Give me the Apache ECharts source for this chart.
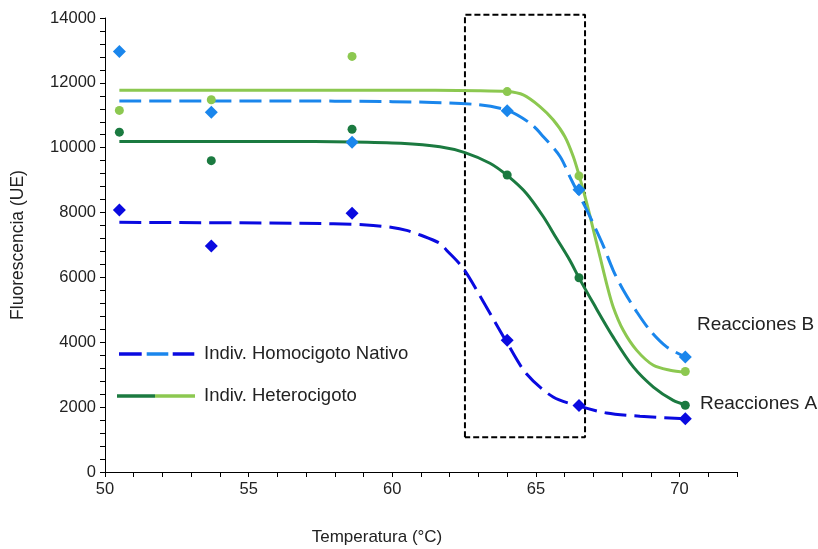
<!DOCTYPE html>
<html><head><meta charset="utf-8">
<script src="https://cdn.jsdelivr.net/npm/echarts@6/dist/echarts.min.js"></script>
<style>html,body{margin:0;padding:0;background:#fff}#c{width:818px;height:549px}</style>
</head><body><div id="c"></div>
<script>
// Measured temperatures (°C)
const temps = [50.5, 53.7, 58.6, 64.0, 66.5, 70.2];
// Measured fluorescence (UE)
const homB = [12970, 11090, 10170, 11140, 8700, 3550];   // Homocigoto nativo, Reacciones B
const hetB = [11150, 11480, 12815, 11730, 9130, 3100];   // Heterocigoto, Reacciones B
const hetA = [10480, 9600, 10570, 9160, 5990, 2060];     // Heterocigoto, Reacciones A
const homA = [8080, 6970, 7980, 4060, 2050, 1640];       // Homocigoto nativo, Reacciones A

// Fitted curves: [temp, fluorescence]
const curveHetB = [[50.5,11770],[56,11770],[60,11770],[63,11760],[64.0,11730],[64.56,11630],[65.14,11270],[65.6,10860],[66.01,10340],[66.3,9730],[66.51,9130],[66.77,8290],[67.06,7250],[67.23,6640],[67.46,5810],[67.69,5090],[68.04,4370],[68.51,3750],[69.09,3290],[69.67,3140],[70.2,3080]];
const curveHomB = [[50.5,11440],[56,11440],[60,11420],[62.82,11340],[64.01,11150],[64.79,10760],[65.26,10340],[65.84,9730],[66.18,9110],[66.41,8700],[66.77,8080],[67.31,7050],[67.69,6220],[68.04,5610],[68.51,4940],[68.97,4370],[69.55,3860],[70.2,3550]];
const curveHetA = [[50.5,10190],[56,10190],[58.6,10180],[60.3,10140],[61.66,10030],[62.53,9850],[63.4,9520],[64.02,9130],[64.67,8590],[65.26,7870],[65.72,7200],[66.18,6530],[66.51,5970],[67.0,5200],[67.69,4160],[68.39,3240],[69.09,2620],[69.78,2210],[70.2,2080]];
const curveHomA = [[50.5,7700],[56.8,7670],[59.1,7620],[60.0,7540],[60.5,7450],[61.0,7300],[61.66,7050],[61.89,6840],[62.47,6280],[63.17,5250],[63.98,4010],[64.67,3030],[65.6,2310],[66.51,2030],[67.46,1820],[68.62,1720],[70.2,1640]];

// Dashed region box corners [temp, fluorescence]
const boxRegion = [[62.53,1070],[62.53,14100],[66.71,14100],[66.71,1070],[62.53,1070]];

// Axis labels
const xLabelStep = 5;
const yLabelStep = 2000;

const C = { darkBlue:'#0a0ae0', lightBlue:'#1a86ec', darkGreen:'#1b7a40', lightGreen:'#8cc850' };
const FONT = "'Liberation Sans', Arial, sans-serif";
const pairs = ys => temps.map((t,i)=>[t, ys[i]]);

const chart = echarts.init(document.getElementById('c'), null, {renderer:'canvas'});
const dash = [22, 8];
function curve(name, data, color, dashed){
  return {name, type:'line', data, smooth:0.3, symbol:'none', z:2,
    lineStyle:{color, width:3, type: dashed ? dash : 'solid'}};
}
function pts(name, data, color, symbol, size){
  return {name, type:'scatter', data, symbol, symbolSize:size, z:3,
    itemStyle:{color, opacity:1}};
}
chart.setOption({
  animation:false,
  backgroundColor:'#fff',
  grid:{left:105, right:81, top:18, bottom:77, containLabel:false},
  xAxis:{type:'value', min:50, max:72, interval:1,
    axisLine:{lineStyle:{color:'#000', width:1}},
    axisTick:{length:5, lineStyle:{color:'#000'}},
    splitLine:{show:false},
    axisLabel:{formatter:v => (v % xLabelStep === 0 ? String(v) : ''), color:'#222', fontSize:16.5, fontFamily:FONT, margin:9}
  },
  yAxis:{type:'value', min:0, max:14000, interval:400,
    axisLine:{show:true, lineStyle:{color:'#000', width:1}},
    axisTick:{show:true, length:5, lineStyle:{color:'#000'}},
    splitLine:{show:false},
    axisLabel:{formatter:v => (v % yLabelStep === 0 ? String(v) : ''), color:'#222', fontSize:16.5, fontFamily:FONT, margin:9},
    name:'Fluorescencia (UE)', nameLocation:'middle', nameGap:78, nameRotate:90,
    nameTextStyle:{color:'#222', fontSize:17.5, fontFamily:FONT}
  },
  series:[
    {name:'box', type:'line', data:boxRegion, symbol:'none', clip:false, silent:true, z:1,
      lineStyle:{color:'#000', width:2, type:[6,3]}},
    curve('Het B fit', curveHetB, C.lightGreen, false),
    curve('Hom B fit', curveHomB, C.lightBlue, true),
    curve('Het A fit', curveHetA, C.darkGreen, false),
    curve('Hom A fit', curveHomA, C.darkBlue, true),
    pts('Hom B', pairs(homB), C.lightBlue, 'diamond', 13),
    pts('Het B', pairs(hetB), C.lightGreen, 'circle', 9),
    pts('Het A', pairs(hetA), C.darkGreen, 'circle', 9),
    pts('Hom A', pairs(homA), C.darkBlue, 'diamond', 13)
  ],
  graphic:[
    {type:'text', x:0, y:0, style:{text:'Temperatura (°C)', x:377, y:537, align:'center', verticalAlign:'middle', fill:'#222', font:'17px '+FONT}},
    {type:'line', shape:{x1:119,y1:354,x2:141.7,y2:354}, style:{stroke:C.darkBlue, lineWidth:3.5}},
    {type:'line', shape:{x1:146.7,y1:354,x2:168.3,y2:354}, style:{stroke:C.lightBlue, lineWidth:3.5}},
    {type:'line', shape:{x1:172.7,y1:354,x2:194.3,y2:354}, style:{stroke:C.darkBlue, lineWidth:3.5}},
    {type:'text', x:0, y:0, style:{text:'Indiv. Homocigoto Nativo', x:204, y:354, verticalAlign:'middle', fill:'#222', font:'18.5px '+FONT}},
    {type:'line', shape:{x1:117,y1:396,x2:155,y2:396}, style:{stroke:C.darkGreen, lineWidth:3.5}},
    {type:'line', shape:{x1:155,y1:396,x2:195,y2:396}, style:{stroke:C.lightGreen, lineWidth:3.5}},
    {type:'text', x:0, y:0, style:{text:'Indiv. Heterocigoto', x:204, y:396, verticalAlign:'middle', fill:'#222', font:'18.5px '+FONT}},
    {type:'text', x:0, y:0, style:{text:'Reacciones B', x:697, y:325, verticalAlign:'middle', fill:'#222', font:'19px '+FONT}},
    {type:'text', x:0, y:0, style:{text:'Reacciones A', x:700, y:404, verticalAlign:'middle', fill:'#222', font:'19px '+FONT}}
  ]
});
</script></body></html>
